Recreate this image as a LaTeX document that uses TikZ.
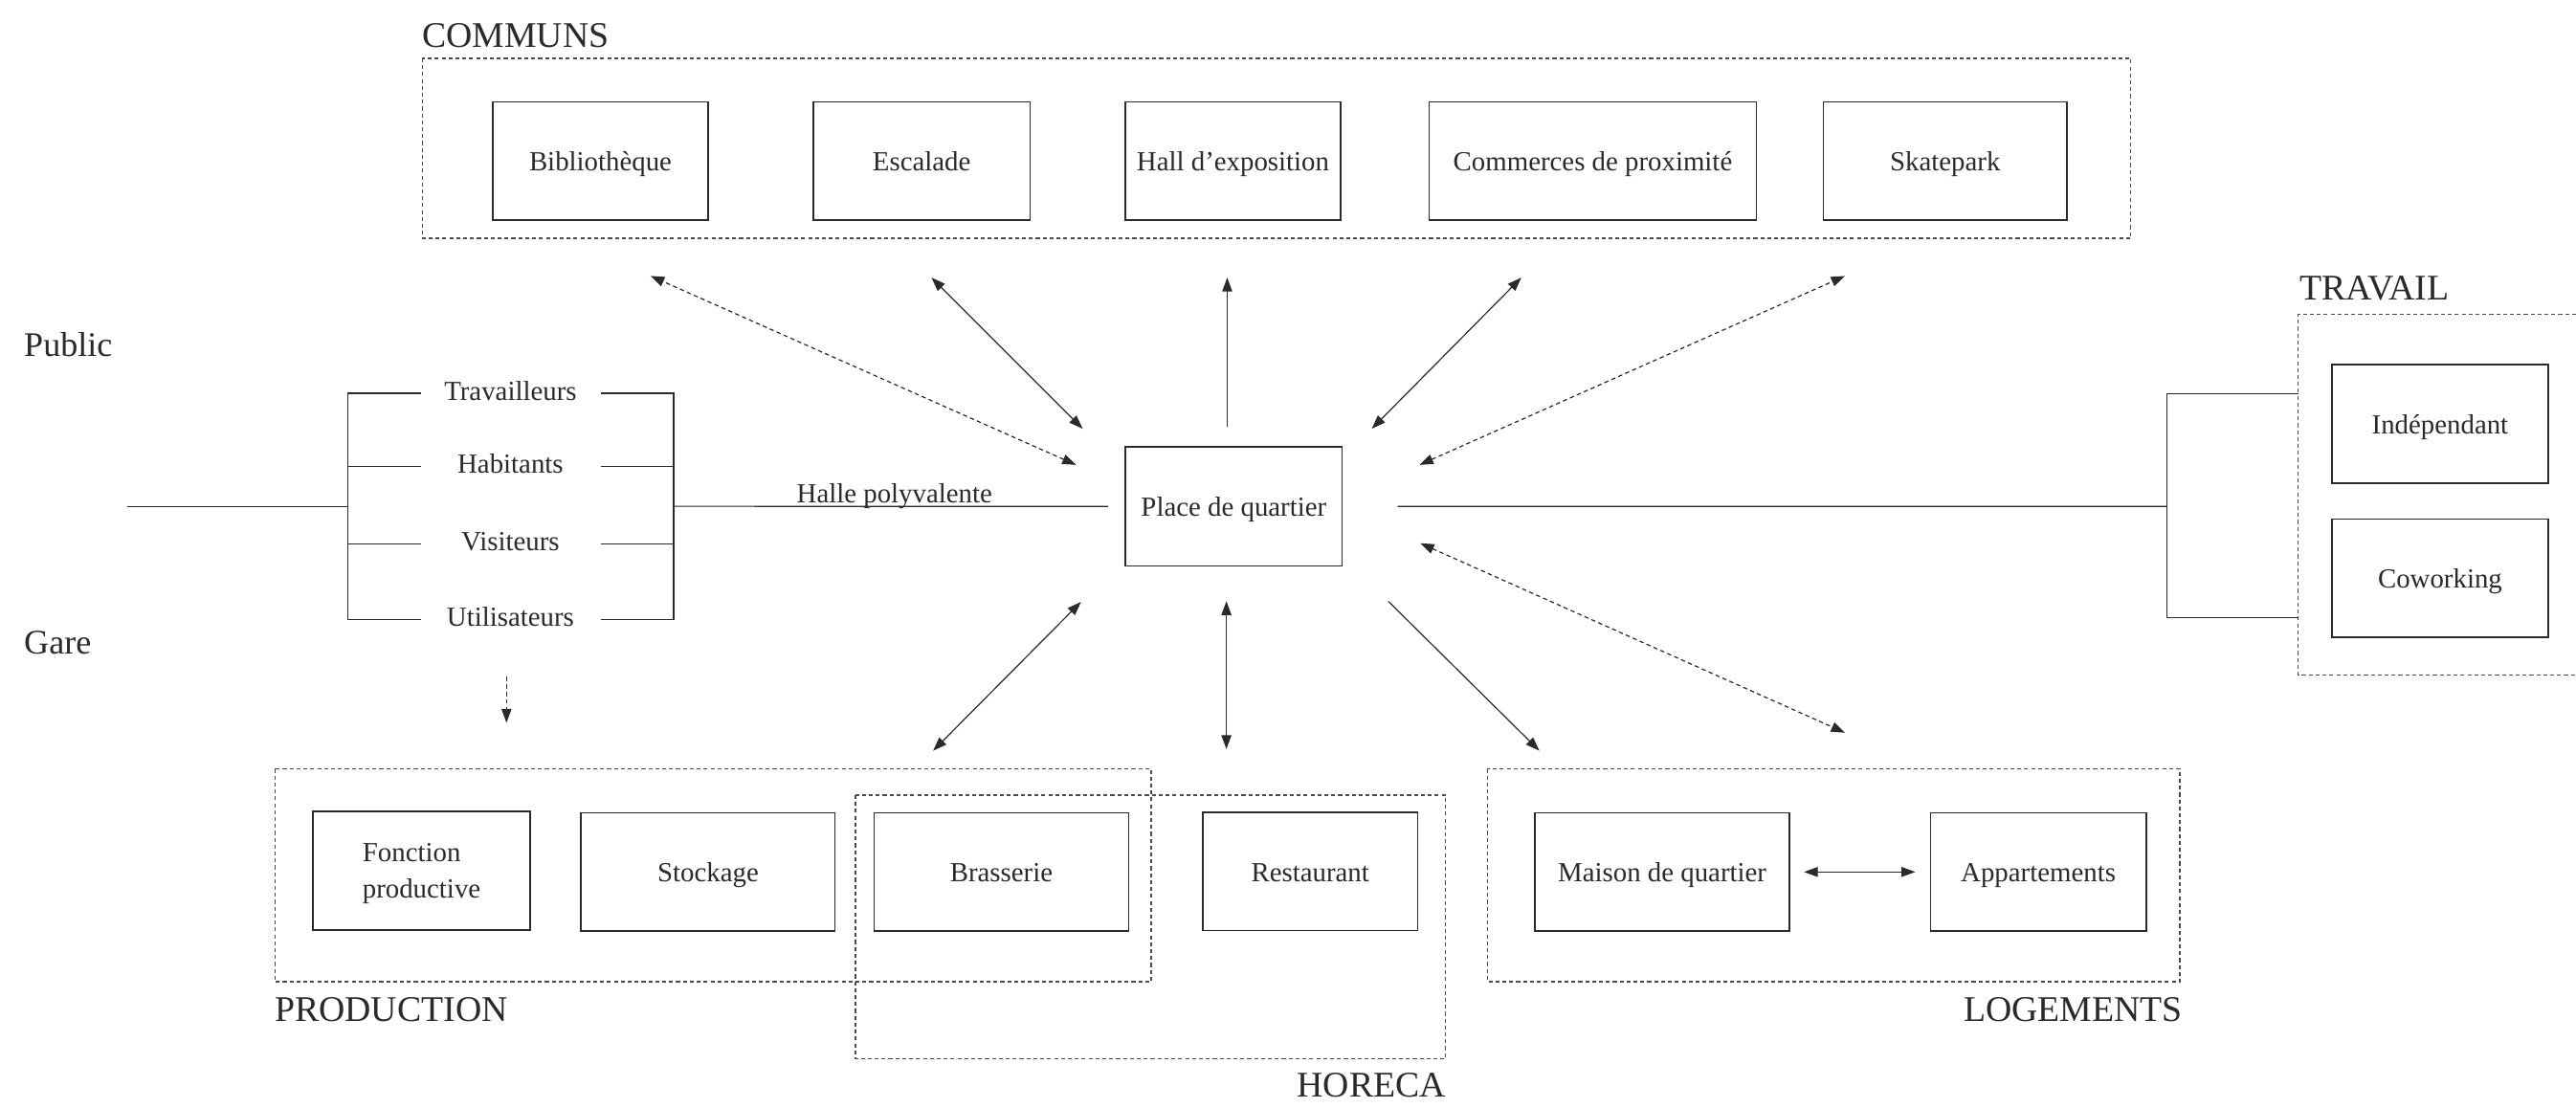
\documentclass[tikz,border=0pt]{standalone}
\usepackage{fontspec}
\setmainfont{Liberation Serif}
\usetikzlibrary{arrows.meta}
\definecolor{ink}{HTML}{2A2A2A}
\begin{document}
\begin{tikzpicture}[x={(0.5pt,0)}, y={(0,-0.5pt)},
  every node/.style={text=ink, inner sep=0pt, outer sep=0pt},
  box/.style={draw=ink, line width=0.45pt, minimum height=36pt, text height=6.6pt, text depth=0.4pt, font=\fontsize{8.4}{11}\selectfont, align=center},
  grp/.style={draw=ink!85, line width=0.35pt, dash pattern=on 1.2pt off 0.9pt},
  glabel/.style={font=\fontsize{11}{13}\selectfont},
  slabel/.style={font=\fontsize{10.5}{12}\selectfont},
  plabel/.style={font=\fontsize{8.4}{11}\selectfont},
  link/.style={draw=ink, line width=0.35pt},
  arr/.style={link, -{Triangle[length=4.2pt,width=3pt]}},
  darr/.style={link, {Triangle[length=4.2pt,width=3pt]}-{Triangle[length=4.2pt,width=3pt]}},
  dashd/.style={dash pattern=on 1.3pt off 1pt}
]
\fill[white] (0,0) rectangle (1568,674);
\useasboundingbox (0,0) rectangle (1568,674);

% group frames
\draw[grp] (257,35.5) rectangle (1297,145);
\draw[grp] (1568,191.5) -- (1399,191.5) -- (1399,411) -- (1568,411);
\draw[grp] (167.3,468) rectangle (700.7,597.6);
\draw[grp] (520.7,484) rectangle (880,644.5);
\draw[grp] (905.5,468) rectangle (1326.8,597.6);

% group labels
\node[glabel, anchor=base west] (lcommuns) at (257,29) {COMMUNS};
\node[glabel, anchor=base west] (ltravail) at (1400,182.5) {TRAVAIL};
\node[glabel, anchor=base west] (lprod) at (167.3,622) {PRODUCTION};
\node[glabel, anchor=base east] (lloge) at (1328.5,622) {LOGEMENTS};
\node[glabel, anchor=base east] (lhoreca) at (880,668) {HORECA};
\node[slabel, anchor=base west] (lpublic) at (14.7,217) {Public};
\node[slabel, anchor=base west] (lgare) at (14.7,398) {Gare};

% COMMUNS boxes
\node[box, minimum width=65.5pt] (bib) at (365.5,98) {Bibliothèque};
\node[box, minimum width=66pt] (esc) at (561,98) {Escalade};
\node[box, minimum width=65.5pt] (hall) at (750.5,98) {Hall d’exposition};
\node[box, minimum width=99.5pt] (comm) at (969.5,98) {Commerces de proximité};
\node[box, minimum width=74pt] (skate) at (1184,98) {Skatepark};

% centre
\node[box, minimum width=66pt, minimum height=36.25pt] (place) at (751,308.25) {Place de quartier};

% TRAVAIL
\node[box, minimum width=65.75pt] (indep) at (1485.25,258) {Indépendant};
\node[box, minimum width=65.75pt] (cowork) at (1485.25,352) {Coworking};

% bottom boxes
\node[box, minimum width=66pt, align=left, text height=16.9pt, text depth=0.4pt] (fonct) at (256.6,530) {Fonction\\productive};
\node[box, minimum width=77.3pt] (stock) at (431,530.8) {Stockage};
\node[box, minimum width=77.5pt] (brass) at (609.5,530.8) {Brasserie};
\node[box, minimum width=65.5pt] (resto) at (797.5,530.5) {Restaurant};
\node[box, minimum width=77.5pt] (maison) at (1011.8,530.8) {Maison de quartier};
\node[box, minimum width=65.7pt] (appart) at (1240.7,530.8) {Appartements};

% public tree
\node[plabel, anchor=base] (trav) at (310.7,243.6) {Travailleurs};
\node[plabel, anchor=base] (hab) at (310.7,288.1) {Habitants};
\node[plabel, anchor=base] (vis) at (310.7,335.2) {Visiteurs};
\node[plabel, anchor=base] (util) at (310.7,381.5) {Utilisateurs};
\node[plabel, anchor=base west] (halle) at (485,306) {Halle polyvalente};

\draw[link] (77.6,308.2) -- (211.8,308.2);
\draw[link] (256,239.4) -- (211.8,239.4) -- (211.8,377.3) -- (256,377.3);
\draw[link] (211.8,283.9) -- (256,283.9);
\draw[link] (211.8,331) -- (256,331);
\draw[link] (365.6,239.4) -- (410,239.4) -- (410,377.3) -- (365.6,377.3);
\draw[link] (365.6,283.9) -- (410,283.9);
\draw[link] (365.6,331) -- (410,331);
\draw[link] (410,308.2) -- ([xshift=-5.2pt]place.west);

% travail bracket
\draw[link] ([xshift=16.9pt]place.east) -- (1319,308.3);
\draw[link] (1399,239.8) -- (1319,239.8) -- (1319,376) -- (1399,376);

% arrow end points
\coordinate (e1) at (396,168);   \coordinate (s1) at (655,283);
\coordinate (e2) at (567,169);   \coordinate (s2) at (659,261);
\coordinate (e3) at (747,169);   \coordinate (s3) at (747,260);
\coordinate (e4) at (926,169);   \coordinate (s4) at (835,261);
\coordinate (e5) at (1123,168);  \coordinate (s5) at (864,283);
\coordinate (e6) at (1123,446);  \coordinate (s6) at (864.5,330.7);
\coordinate (e7) at (937,457);   \coordinate (s7) at (845,366);
\coordinate (e8) at (746.5,456); \coordinate (s8) at (746.5,366);
\coordinate (e9) at (568,457);   \coordinate (s9) at (658,366.4);
\coordinate (s10) at (308.3,412); \coordinate (e10) at (308.3,440);

\draw[darr, dashd] (s1) -- (e1);
\draw[darr] (s2) -- (e2);
\draw[arr] (s3) -- (e3);
\draw[darr] (s4) -- (e4);
\draw[darr, dashd] (s5) -- (e5);
\draw[darr, dashd] (s6) -- (e6);
\draw[arr] (s7) -- (e7);
\draw[darr] (s8) -- (e8);
\draw[darr] (s9) -- (e9);
\draw[arr, dashd] (s10) -- (e10);
\draw[darr] ([xshift=4.4pt]maison.east) -- ([xshift=-4.6pt]appart.west);
\end{tikzpicture}
\end{document}
